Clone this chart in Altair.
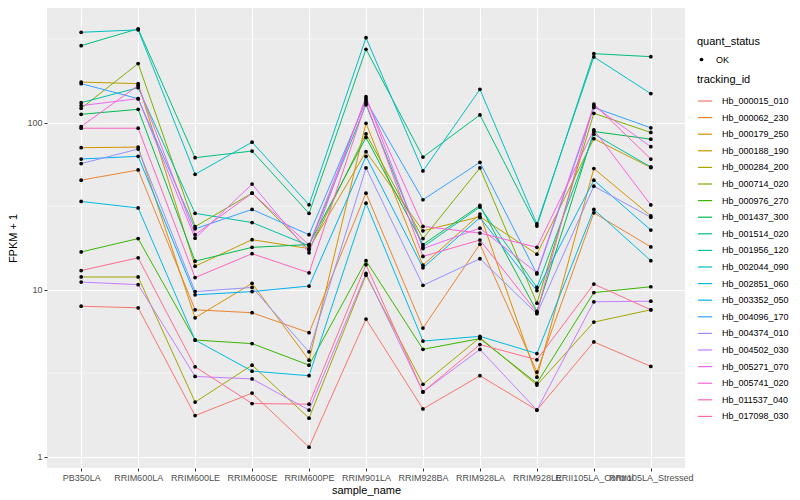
import altair as alt
import pandas as pd

samples = ["PB350LA", "RRIM600LA", "RRIM600LE", "RRIM600SE", "RRIM600PE", "RRIM901LA",
           "RRIM928BA", "RRIM928LA", "RRIM928LE", "RRII105LA_Control", "RRII105LA_Stressed"]

tracking_ids = ["Hb_000015_010", "Hb_000062_230", "Hb_000179_250", "Hb_000188_190", "Hb_000284_200",
                "Hb_000714_020", "Hb_000976_270", "Hb_001437_300", "Hb_001514_020", "Hb_001956_120",
                "Hb_002044_090", "Hb_002851_060", "Hb_003352_050", "Hb_004096_170", "Hb_004374_010",
                "Hb_004502_030", "Hb_005271_070", "Hb_005741_020", "Hb_011537_040", "Hb_017098_030"]

colors = ["#F8766D", "#EA8331", "#D89000", "#C09B00", "#A3A500", "#7CAE00", "#39B600", "#00BB4E",
          "#00BF7D", "#00C1A3", "#00BFC4", "#00BAE0", "#00B0F6", "#35A2FF", "#9590FF", "#C77CFF",
          "#E76BF3", "#FA62DB", "#FF62BC", "#FF6C91"]

# FPKM + 1 per sample (same order as samples)
hb_000015_010 = [7.95, 7.78, 1.76, 2.40, 1.14, 6.66, 1.93, 3.05, 1.90, 4.86, 3.47]
hb_000062_230 = [45.2, 52.0, 7.57, 7.27, 5.52, 37.8, 5.88, 18.7, 3.21, 28.8, 18.0]
hb_000179_250 = [70.7, 71.3, 6.78, 10.9, 3.78, 99.0, 14.0, 28.3, 2.99, 53.0, 27.6]
hb_000188_190 = [174.7, 171.0, 13.8, 19.9, 17.6, 66.9, 22.5, 27.3, 16.3, 80.0, 53.8]
hb_000284_200 = [11.9, 11.9, 2.12, 3.53, 1.70, 12.2, 2.71, 5.16, 2.68, 6.39, 7.57]
hb_000714_020 = [121.7, 225.4, 23.8, 37.8, 17.3, 85.6, 20.2, 53.5, 8.29, 113.6, 87.2]
hb_000976_270 = [16.8, 20.2, 4.99, 4.75, 3.53, 14.9, 4.39, 5.09, 2.75, 9.60, 10.4]
hb_001437_300 = [112.0, 120.0, 14.8, 17.9, 18.6, 81.4, 18.6, 31.9, 7.40, 88.4, 79.5]
hb_001514_020 = [288.5, 364.0, 61.6, 67.5, 28.6, 274.6, 62.1, 111.0, 24.0, 258.5, 248.0]
hb_001956_120 = [131.5, 161.6, 28.6, 25.2, 18.3, 128.0, 18.0, 31.2, 10.3, 85.2, 54.2]
hb_002044_090 = [347.0, 359.0, 49.0, 76.3, 32.2, 322.0, 51.3, 158.0, 24.7, 247.0, 149.0]
hb_002851_060 = [33.7, 30.8, 4.99, 3.25, 3.05, 32.9, 4.92, 5.25, 4.14, 30.2, 14.9]
hb_003352_050 = [60.5, 62.8, 9.30, 9.73, 10.5, 62.8, 13.5, 27.0, 9.86, 45.2, 22.7]
hb_004096_170 = [171.0, 139.0, 23.1, 30.2, 21.3, 135.0, 34.5, 57.8, 12.4, 123.0, 93.0]
hb_004374_010 = [56.8, 69.4, 9.73, 10.3, 4.24, 53.5, 10.6, 15.3, 7.17, 41.6, 27.1]
hb_004502_030 = [11.1, 10.7, 3.02, 2.92, 1.90, 12.5, 2.44, 4.38, 1.90, 8.45, 8.52]
hb_005271_070 = [126.3, 139.0, 20.3, 42.8, 16.6, 142.8, 17.6, 23.3, 12.6, 125.8, 71.7]
hb_005741_020 = [94.7, 166.7, 21.3, 37.8, 18.5, 139.0, 23.9, 21.8, 17.9, 90.5, 32.1]
hb_011537_040 = [92.5, 92.5, 11.8, 16.4, 12.6, 131.5, 15.8, 19.8, 7.30, 129.0, 60.5]
hb_017098_030 = [13.0, 15.5, 3.45, 2.08, 2.06, 14.1, 2.44, 4.69, 3.80, 10.8, 7.57]

series = [hb_000015_010, hb_000062_230, hb_000179_250, hb_000188_190, hb_000284_200,
          hb_000714_020, hb_000976_270, hb_001437_300, hb_001514_020, hb_001956_120,
          hb_002044_090, hb_002851_060, hb_003352_050, hb_004096_170, hb_004374_010,
          hb_004502_030, hb_005271_070, hb_005741_020, hb_011537_040, hb_017098_030]

y_breaks = [1, 10, 100]
y_minor = [3.1623, 31.623, 316.23]

rows = []
for tid, vals in zip(tracking_ids, series):
    for i, (s, v) in enumerate(zip(samples, vals)):
        rows.append({"tracking_id": tid, "sample_name": s, "fpkm1": v, "idx": i, "quant_status": "OK"})
df = pd.DataFrame(rows)
minor_df = pd.DataFrame({"v": y_minor})

FONT = "Liberation Sans"
y_scale = alt.Scale(type="log", domain=[0.855, 485], nice=False)
x_scale = alt.Scale(type="point", padding=0.6)

x_enc = alt.X("sample_name:N", sort=samples, scale=x_scale, title="sample_name",
              axis=alt.Axis(labelAngle=0, labelOverlap=False, labelBound=False, grid=True,
                            gridColor="white", gridWidth=1.1, domain=False, tickColor="#333333",
                            tickSize=3, labelColor="#4D4D4D", labelFontSize=9, labelPadding=2,
                            titleFontSize=11, titleFontWeight="normal", titleColor="black",
                            titlePadding=2, labelFont=FONT, titleFont=FONT))
y_enc = alt.Y("fpkm1:Q", scale=y_scale, title="FPKM + 1",
              axis=alt.Axis(values=y_breaks, format="d", grid=True, gridColor="white", gridWidth=1.1,
                            domain=False, tickColor="#333333", tickSize=3, labelColor="#4D4D4D",
                            labelFontSize=9, labelPadding=2, titleFontSize=11,
                            titleFontWeight="normal", titleColor="black", titlePadding=8,
                            labelFont=FONT, titleFont=FONT))

minor = alt.Chart(minor_df).mark_rule(color="white", strokeWidth=0.55).encode(
    y=alt.Y("v:Q", scale=y_scale)
)

lines = alt.Chart(df).mark_line(strokeWidth=1).encode(
    x=x_enc,
    y=y_enc,
    color=alt.Color("tracking_id:N", scale=alt.Scale(domain=tracking_ids, range=colors),
                    legend=alt.Legend(title="tracking_id", orient="none", legendX=650, legendY=66,
                                      symbolType="stroke", symbolSize=200, symbolStrokeWidth=1.2,
                                      rowPadding=3.6, labelFontSize=9, titleFontSize=11,
                                      titleFontWeight="normal", titleFont=FONT, labelFont=FONT,
                                      titlePadding=8, labelOffset=9)),
    order=alt.Order("idx:Q"),
)

points = alt.Chart(df).mark_point(filled=True, color="black", size=14, opacity=1).encode(
    x=alt.X("sample_name:N", sort=samples, scale=x_scale),
    y=alt.Y("fpkm1:Q", scale=y_scale),
    shape=alt.Shape("quant_status:N", scale=alt.Scale(range=["circle"]),
                    legend=alt.Legend(title="quant_status", orient="none", legendX=650, legendY=28,
                                      symbolFillColor="black", symbolStrokeColor="black",
                                      symbolSize=14, labelFontSize=9, titleFontSize=11,
                                      titleFontWeight="normal", titleFont=FONT, labelFont=FONT,
                                      titlePadding=8, labelOffset=10)),
)

chart = alt.layer(minor, lines, points).properties(
    width=638, height=460,
    autosize=alt.AutoSizeParams(type="none"),
    padding={"left": 39, "top": 0, "right": 107, "bottom": 28},
).configure(font=FONT).configure_view(fill="#EBEBEB", strokeWidth=0)

chart.save("out.html", embed_options={"renderer": "svg", "actions": False})
